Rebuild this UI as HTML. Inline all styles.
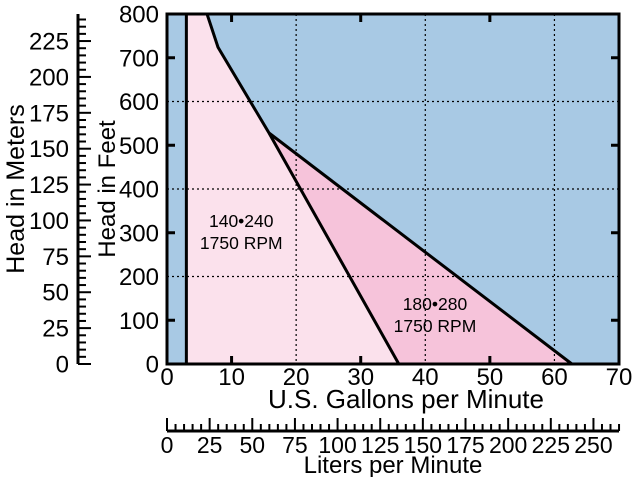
<!DOCTYPE html>
<html><head><meta charset="utf-8"><style>
html,body{margin:0;padding:0;background:#fff;}
svg{display:block;font-family:"Liberation Sans",sans-serif;}
</style></head><body>
<svg id="chart" width="633" height="477" viewBox="0 0 633 477">
<g id="plot"></g>
</svg>
<script>
const xTicksGal = [0,10,20,30,40,50,60,70];
const yTicksFt = [0,100,200,300,400,500,600,700,800];
const yTicksM = [0,25,50,75,100,125,150,175,200,225];
const xTicksL = [0,25,50,75,100,125,150,175,200,225,250];
const gridGal = [20,40,60];
const gridFt = [200,400,600];
// region boundaries (gallons, feet)
const pumpSmallGal = [3,3,6.2,7.9,15.8,35.9];
const pumpSmallFt = [0,800,800,724,528,0];
const pumpLargeGal = [15.8,62.7,35.9];
const pumpLargeFt = [528,0,0];
const labelGal = [11.5, 41.5];
const labelFt = [300, 110];
const labelModel = ["140•240","180•280"];

const NS="http://www.w3.org/2000/svg";
const svg=document.getElementById('chart');
const X0=167,X1=619,Y0=364,Y1=14;
const xs=g=>X0+g*(X1-X0)/70;
const ys=f=>Y0-f*(Y0-Y1)/800;
function mk(t,a,p){const e=document.createElementNS(NS,t);for(const k in a)e.setAttribute(k,a[k]);(p||svg).appendChild(e);return e;}

let e=mk('rect',{x:X0,y:Y1,width:X1-X0,height:Y0-Y1,fill:'#a8c9e4'});



e=mk('polygon',{points:pumpSmallGal.map((g,i)=>xs(g)+','+ys(pumpSmallFt[i])).join(' '),fill:'#fbe1ec'});


e=mk('polygon',{points:pumpLargeGal.map((g,i)=>xs(g)+','+ys(pumpLargeFt[i])).join(' '),fill:'#f6c3da'});



gridGal.forEach(g=>{const l=mk('line',{x1:xs(g),x2:xs(g),y1:Y1,y2:Y0,stroke:'#000','stroke-width':1.2,'stroke-dasharray':'2,3'});

});
gridFt.forEach(f=>{const l=mk('line',{x1:X0,x2:X1,y1:ys(f),y2:ys(f),stroke:'#000','stroke-width':1.2,'stroke-dasharray':'2,3'});

});

e=mk('polyline',{points:pumpSmallGal.map((g,i)=>xs(g)+','+ys(pumpSmallFt[i])).join(' '),fill:'none',stroke:'#000','stroke-width':3});


e=mk('polyline',{points:pumpLargeGal.slice(0,2).map((g,i)=>xs(g)+','+ys(pumpLargeFt[i])).join(' '),fill:'none',stroke:'#000','stroke-width':3});



xTicksGal.forEach(g=>{if(g%20===0)return;[[Y0,Y0-8],[Y1,Y1+8]].forEach(p=>{const t=mk('line',{x1:xs(g),x2:xs(g),y1:p[0],y2:p[1],stroke:'#000','stroke-width':3});

});});
yTicksFt.forEach(f=>{if(f%200===0)return;[[X0,X0+8],[X1,X1-8]].forEach(p=>{const t=mk('line',{x1:p[0],x2:p[1],y1:ys(f),y2:ys(f),stroke:'#000','stroke-width':3});

});});

e=mk('rect',{x:X0,y:Y1,width:X1-X0,height:Y0-Y1,fill:'none',stroke:'#000','stroke-width':3});



function txt(s,x,y,opt){const t=mk('text',Object.assign({x:x,y:y,'font-size':24,fill:'#000'},opt||{}));t.textContent=s;return t;}
xTicksGal.forEach(g=>{const t=txt(g,xs(g),385,{'text-anchor':'middle'});

});
yTicksFt.forEach(f=>{const t=txt(f,159,ys(f)+8.5,{'text-anchor':'end'});

});

e=txt('U.S. Gallons per Minute',406,408,{'text-anchor':'middle','font-size':26});


e=txt('Head in Feet',0,0,{'text-anchor':'middle',transform:'translate(115,'+ys(400)+') rotate(-90)'});



const LY=431;
e=mk('line',{x1:X0,x2:X1,y1:LY,y2:LY,stroke:'#000','stroke-width':3});


for(let l=0;l<=265;l+=5){const g=l/3.78541;const h=l%25===0?13:7;
const t=mk('line',{x1:xs(g),x2:xs(g),y1:LY,y2:LY-h,stroke:'#000','stroke-width':2});

}
xTicksL.forEach(l=>{const t=txt(l,xs(l/3.78541),453,{'text-anchor':'middle','font-size':23});

});
e=txt('Liters per Minute',393,473,{'text-anchor':'middle'});



const MX=78;
e=mk('line',{x1:MX,x2:MX,y1:Y1,y2:Y0,stroke:'#000','stroke-width':3});


for(let m=0;m<=240;m+=5){const f=m*3.28084;const h=m%25===0?13:8;
const t=mk('line',{x1:MX,x2:MX+h,y1:ys(f),y2:ys(f),stroke:'#000','stroke-width':2});

}
yTicksM.forEach(m=>{const t=txt(m,69,ys(m*3.28084)+8.5,{'text-anchor':'end'});

});
e=txt('Head in Meters',0,0,{'text-anchor':'middle',transform:'translate(24,'+ys(400)+') rotate(-90)','font-size':25});



labelModel.forEach((s,i)=>{const a=txt(s,xs(labelGal[i]),ys(labelFt[i])-6,{'text-anchor':'middle','font-size':17.5});


const b=txt('1750 RPM',xs(labelGal[i]),ys(labelFt[i])+16,{'text-anchor':'middle','font-size':17.5});

});
</script>
</body></html>
